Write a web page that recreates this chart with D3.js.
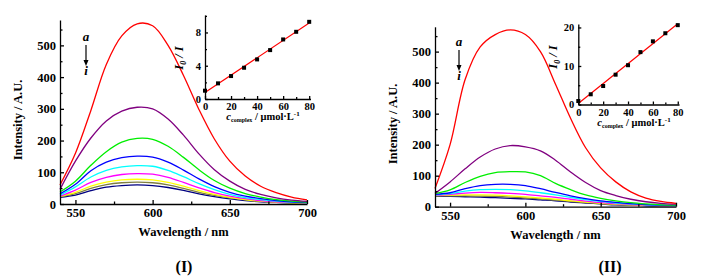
<!DOCTYPE html>
<html><head><meta charset="utf-8">
<script src="https://cdn.jsdelivr.net/npm/d3@7/dist/d3.min.js"></script>
<style>
html,body{margin:0;padding:0;background:#fff;}
svg{display:block;font-family:"Liberation Serif","Times New Roman",serif;font-weight:bold;}
</style></head><body>
<svg id="c" width="716" height="278"></svg>
<script>
// ---------- data ----------
const wavelengths = [540,550,560,570,580,590,600,610,620,630,640,650,660,670,680,690,700];
const curveNames = ["a","b","c","d","e","f","g","h","i"];
const curveColors = ["#ff0000","#800080","#00ee00","#0000ff","#00ffff","#ff00ff","#ffff00","#808040","#000080"];

// Panel I spectra (Intensity / A.U.)
const specI_a = [60,160,295,440,530,568,562,500,405,298,205,135,88,56,36,22,13];
const specI_b = [46,135,208,262,293,305,300,268,217,158,108,72,46,30,19,12,8];
const specI_c = [38,72,122,165,195,207,204,182,147,108,74,50,33,22,14,9,6];
const specI_d = [32,62,105,132,146,151,148,132,107,79,55,37,25,17,11,7,5];
const specI_e = [28,54,85,106,117,121,119,106,86,64,45,30,20,14,9,6,4];
const specI_f = [25,44,68,84,93,96,94,84,68,51,36,25,17,11,7,5,3];
const specI_g = [24,37,56,69,76,78,76,68,56,42,30,21,14,9,6,4,3];
const specI_h = [23,33,49,61,67,69,67,60,49,37,27,19,13,8,5,4,2];
const specI_i = [21,28,42,53,58,60,58,52,43,32,23,16,11,7,5,3,2];

// Panel II spectra
const specII_a = [59,200,410,515,555,570,555,500,395,285,190,125,80,48,28,17,11];
const specII_b = [43,80,122,160,186,197,193,180,150,112,78,52,36,24,16,11,8];
const specII_c = [42,54,78,98,110,113,112,100,75,55,38,27,19,13,9,6,5];
const specII_d = [40,45,58,68,72,72,68,58,46,35,26,19,14,10,7,5,4];
const specII_e = [38,42,50,55,56,55,51,45,38,30,23,17,12,9,6,4,3];
const specII_f = [37,40,44,46,45,43,40,35,30,24,18,13,10,7,5,3,2];
const specII_g = [36,37,38,38,37,35,32,28,24,19,15,11,8,6,4,3,2];
const specII_h = [35,35,35,34,33,31,28,25,21,17,13,10,7,5,4,3,2];
const specII_i = [33,33,32,31,29,27,25,22,19,15,12,9,6,5,3,2,2];

// Insets: Stern-Volmer plots
const concentrations = [0,10,20,30,40,50,60,70,80];
const ratioI  = [1.0,1.88,2.76,3.76,4.76,5.88,7.16,8.08,9.28];
const ratioII = [0.9,2.65,4.8,7.74,10.2,13.6,16.4,18.5,20.6];

// tick values
const specXTicks = [550,600,650,700];
const specXMinor = [575,625,675];
const specYTicks = [0,100,200,300,400,500];
const specYMinor = [50,150,250,350,450,550];
const insetXTicks = [0,20,40,60,80];
const insetXMinor = [10,30,50,70];
const insetYTicksI = [0,4,8];
const insetYMinorI = [2,6,10];
const insetYTicksII = [0,10,20];
const insetYMinorII = [5,15];

const svg = d3.select("#c");

function axes(g, x, y, xt, xm, yt, ym, fs, tl, tm){
  const xa = g.append("g").attr("transform",`translate(0,${y.range()[0]})`)
    .call(d3.axisBottom(x).tickValues(xt).tickSizeInner(-tl).tickSizeOuter(0).tickPadding(4).tickFormat(d3.format("d")));
  const xb = g.append("g").attr("transform",`translate(0,${y.range()[0]})`)
    .call(d3.axisBottom(x).tickValues(xm).tickSizeInner(-tm).tickSizeOuter(0).tickFormat(""));
  xb.select(".domain").remove();
  const ya = g.append("g").attr("transform",`translate(${x.range()[0]},0)`)
    .call(d3.axisLeft(y).tickValues(yt).tickSizeInner(-tl).tickSizeOuter(0).tickPadding(4).tickFormat(d3.format("d")));
  const yb = g.append("g").attr("transform",`translate(${x.range()[0]},0)`)
    .call(d3.axisLeft(y).tickValues(ym).tickSizeInner(-tm).tickSizeOuter(0).tickFormat(""));
  yb.select(".domain").remove();
  [xa,xb,ya,yb].forEach(a=>{
    a.selectAll("path,line").attr("stroke","#000").attr("stroke-width",1.3);
    a.selectAll("text").attr("font-size",fs).attr("font-family","Liberation Serif, serif").attr("font-weight","bold").attr("fill","#000");
  });
  return {xa,ya};
}

function panel(cfg){
  const g = svg.append("g");
  const x = d3.scaleLinear().domain([540,700]).range([cfg.x0,cfg.x1]);
  const y = d3.scaleLinear().domain([0,580]).range([cfg.y0,cfg.y1]);
  const line = d3.line().x((d,i)=>x(wavelengths[i])).y(d=>y(d)).curve(d3.curveCatmullRom.alpha(0.5));
  for(let k=cfg.spectra.length-1;k>=0;k--){
    g.append("path").attr("d",line(cfg.spectra[k])).attr("fill","none")
      .attr("stroke",curveColors[k]).attr("stroke-width",1.3);
  }
  axes(g,x,y,specXTicks,specXMinor,specYTicks,specYMinor,12.5,4,2.5);
  g.append("text").attr("x",(cfg.x0+cfg.x1)/2).attr("y",cfg.y0+32).attr("text-anchor","middle")
    .attr("font-size",12.5).text("Wavelength / nm");
  g.append("text").attr("transform",`translate(${cfg.ylx},${cfg.yly}) rotate(-90)`).attr("text-anchor","middle")
    .attr("font-size",12.5).text("Intensity / A.U.");
  g.append("text").attr("x",cfg.labX).attr("y",272).attr("text-anchor","middle").attr("font-size",16).text(cfg.label);
  // a -> i arrow
  g.append("text").attr("x",cfg.ax).attr("y",cfg.ay).attr("text-anchor","middle").attr("font-style","italic").attr("font-size",13).text("a");
  g.append("line").attr("x1",cfg.ax).attr("x2",cfg.ax).attr("y1",cfg.ay+4).attr("y2",cfg.ay+22).attr("stroke","#000").attr("stroke-width",1.2);
  g.append("path").attr("d",`M${cfg.ax-2.5},${cfg.ay+19}L${cfg.ax+2.5},${cfg.ay+19}L${cfg.ax},${cfg.ay+25}Z`).attr("fill","#000");
  g.append("text").attr("x",cfg.ax).attr("y",cfg.ay+34).attr("text-anchor","middle").attr("font-style","italic").attr("font-size",13).text("i");

  // inset
  const ix = d3.scaleLinear().domain([0,81]).range([cfg.ix0,cfg.ix1]);
  const iy = d3.scaleLinear().domain([0,cfg.iyMax]).range([cfg.iy0,cfg.iy1]);
  const gi = svg.append("g");
  const r = cfg.ratio;
  const mx = d3.mean(concentrations), my = d3.mean(r);
  const slope = d3.sum(concentrations,(c,i)=>(c-mx)*(r[i]-my))/d3.sum(concentrations,c=>(c-mx)*(c-mx));
  const icp = my - slope*mx;
  gi.append("line").attr("x1",ix(0)).attr("y1",iy(icp)).attr("x2",ix(80)).attr("y2",iy(icp+slope*80))
    .attr("stroke","#ff0000").attr("stroke-width",1.2);
  gi.selectAll("rect.pt").data(r).enter().append("rect")
    .attr("x",(d,i)=>ix(concentrations[i])-2).attr("y",d=>iy(d)-2).attr("width",4).attr("height",4).attr("fill","#000");
  axes(gi,ix,iy,insetXTicks,insetXMinor,cfg.iyt,cfg.iym,10.5,3,2);
  const yl = gi.append("text").attr("transform",`translate(${cfg.iylx},${cfg.iyly}) rotate(-90)`).attr("text-anchor","middle")
    .attr("font-size",12.5).attr("font-style","italic");
  yl.append("tspan").text("I");
  yl.append("tspan").attr("font-size",8).attr("dy",3).text("0");
  yl.append("tspan").attr("dy",-3).text(" / I");
  const xl = gi.append("text").attr("x",cfg.ixlx).attr("y",cfg.ixly).attr("text-anchor","middle").attr("font-size",10.5);
  xl.append("tspan").attr("font-style","italic").text("c");
  xl.append("tspan").attr("font-size",6).attr("dy",2).text("complex");
  xl.append("tspan").attr("dy",-2).text(" / \u03bcmol\u00b7L");
  xl.append("tspan").attr("font-size",7).attr("dy",-4).text("-1");
}

panel({x0:60,x1:307,y0:204,y1:20,spectra:[specI_a,specI_b,specI_c,specI_d,specI_e,specI_f,specI_g,specI_h,specI_i],
  ylx:22,yly:120,labX:184,label:"(I)",ax:86,ay:41,
  ix0:205,ix1:310.5,iy0:99,iy1:15,iyMax:10.1,ratio:ratioI,iyt:insetYTicksI,iym:insetYMinorI,
  iylx:183,iyly:58,ixlx:263,ixly:120});
panel({x0:435,x1:676,y0:206.7,y1:26.8,spectra:[specII_a,specII_b,specII_c,specII_d,specII_e,specII_f,specII_g,specII_h,specII_i],
  ylx:397,yly:124,labX:610,label:"(II)",ax:459,ay:46,
  ix0:578.3,ix1:679,iy0:104.5,iy1:24,iyMax:20.9,ratio:ratioII,iyt:insetYTicksII,iym:insetYMinorII,
  iylx:557,iyly:57,ixlx:634,ixly:126});
</script>
</body></html>
